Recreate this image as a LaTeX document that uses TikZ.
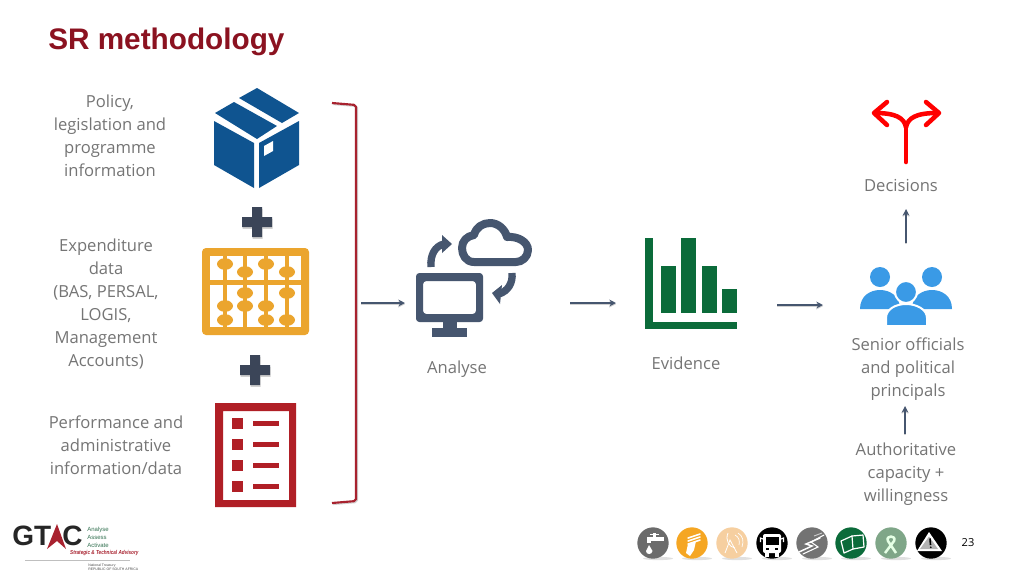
\documentclass[tikz,border=0pt]{standalone}
\usepackage{fontspec}
\setmainfont{Open Sans}
\newfontfamily\arialf{Liberation Sans}
\usetikzlibrary{arrows.meta}
\definecolor{navybox}{HTML}{0F5490}
\definecolor{slateplus}{HTML}{3B4558}
\definecolor{abacus}{HTML}{EBA52E}
\definecolor{listred}{HTML}{B01F26}
\definecolor{brackred}{HTML}{A8222F}
\definecolor{slateic}{HTML}{46566F}
\definecolor{chartgreen}{HTML}{0B6B3A}
\definecolor{peoplblue}{HTML}{3A9AE6}
\definecolor{textgrey}{HTML}{757575}
\definecolor{titlered}{HTML}{8B1220}
\tikzset{
  x=0.75pt,y=-0.75pt,
  lab/.style={text=textgrey,font=\fontsize{12.45pt}{17.25pt}\selectfont,align=center,inner sep=0pt},
  flow/.style={draw=slateic,line width=1.4pt,-{Stealth[length=5pt,width=5pt]},
    preaction={draw=black!18,line width=1.4pt,transform canvas={yshift=-0.9pt}}},
  badge/.style={circle,minimum size=23.5pt,inner sep=0pt},
  glyph/.style={draw=white,line width=0.9pt,line cap=round,line join=round},
}
\newcommand{\plusshape}[2]{(#1-15,#2-5) -- (#1-5,#2-5) -- (#1-5,#2-15) -- (#1+5,#2-15) -- (#1+5,#2-5) -- (#1+15,#2-5) -- (#1+15,#2+5) -- (#1+5,#2+5) -- (#1+5,#2+15) -- (#1-5,#2+15) -- (#1-5,#2+5) -- (#1-15,#2+5) -- cycle}
\newcommand{\plusat}[2]{\fill[black!18] \plusshape{#1+0.5}{#2+1.8}; \fill[slateplus] \plusshape{#1}{#2};}
\newcommand{\beadat}[2]{\fill[abacus] (#1,#2) ellipse [x radius=8,y radius=5.8];}
\newcommand{\badgeshade}[2]{\fill[black!12] (#1+5,#2+15.5) ellipse [x radius=15,y radius=1.6];}
\begin{document}
\begin{tikzpicture}
\useasboundingbox (0,0) rectangle (1024,576);
\fill[white] (0,0) rectangle (1024,576);
% title
\node[anchor=west,inner sep=0pt,text=titlered,font=\arialf\bfseries\fontsize{22.3pt}{26pt}\selectfont] (title) at (48,42) {SR methodology};
% left labels
\node[lab] (policy) at (110,135.5) {Policy,\\legislation and\\programme\\information};
\node[lab] (expend) at (106,304) {Expenditure\\data\\(BAS, PERSAL,\\LOGIS,\\Management\\Accounts)};
\node[lab] (perf) at (116,445) {Performance and\\administrative\\information/data};
% box icon
\fill[navybox] (257,88) -- (299,113) -- (282,123) -- (239,98) -- cycle;
\fill[navybox] (234,102) -- (277,126) -- (257,139) -- (215,113) -- cycle;
\fill[navybox] (214,121) -- (254,143) -- (254,188) -- (214,165) -- cycle;
\fill[navybox] (259,143) -- (299,121) -- (299,165) -- (259,188) -- cycle;
\fill[white] (264,146) -- (273,141) -- (273,151) -- (264,156) -- cycle;
\plusat{257}{222}
\plusat{255}{370}
% abacus
\fill[abacus,rounded corners=3pt] (202,248) rectangle (309,335);
\fill[white] (210,256) rectangle (301,327);
\fill[abacus] (210,280) rectangle (301,285);
\foreach \x in {225,245,266,287}{\fill[abacus] (\x-2,256) rectangle (\x+2,327);}
\beadat{225}{264}\beadat{245}{272}\beadat{266}{264}\beadat{287}{272}
\beadat{245}{293}\beadat{287}{293}
\beadat{225}{306}\beadat{245}{306}\beadat{266}{306}
\beadat{225}{320}\beadat{266}{320}\beadat{287}{320}
% list
\fill[listred,even odd rule] (215,403) rectangle (296,507) (223,411) rectangle (289,500);
\foreach \y in {418,439,460,481}{
  \fill[listred] (232,\y) rectangle (243,\y+11);
  \fill[listred] (253,\y+3) rectangle (279,\y+8);
}
% bracket
\draw[black!18,line width=1.6pt,rounded corners=1.5pt] (333,104) -- (357,106) -- (357,502) -- (333,504);
\draw[brackred,line width=1.6pt,rounded corners=1.5pt] (332,103) -- (356,105) -- (356,501) -- (332,503);
% analyse icon
\fill[slateic,rounded corners=2.5pt,even odd rule] (416,273) rectangle (483,322) (423,281) rectangle (476,314);
\fill[slateic] (443,322) rectangle (457,329);
\fill[slateic] (432,328) rectangle (467,337);
\draw[slateic,line width=6pt,line join=round] (474,262) .. controls (466,262) and (462,255) .. (462,248) .. controls (462,241) and (467,236) .. (474,235) .. controls (476,227) and (483,223) .. (490,223) .. controls (498,223) and (505,229) .. (507,237) .. controls (518,236) and (528,242) .. (528,250) .. controls (528,257) and (522,262) .. (516,262) -- cycle;
\draw[slateic,line width=5.5pt] (431,267) .. controls (430,255) and (435,246) .. (444,244);
\fill[slateic] (442,235) -- (452,244) -- (442,253) -- cycle;
\draw[slateic,line width=5.5pt] (512,273) .. controls (513,283) and (508,291) .. (499,294);
\fill[slateic] (492,293) -- (502,285) -- (500,304) -- cycle;
% chart
\fill[chartgreen] (645,238) rectangle (653,329);
\fill[chartgreen] (645,322) rectangle (737,329);
\fill[chartgreen] (661,266) rectangle (676,313);
\fill[chartgreen] (681,238) rectangle (696,313);
\fill[chartgreen] (702,266) rectangle (717,313);
\fill[chartgreen] (722,289) rectangle (737,313);
% decisions icon
\draw[red,line width=3.4pt,line cap=round] (906,162) -- (906,127);
\draw[red,line width=3.4pt,line cap=round] (906,127) .. controls (904,118) and (896,113) .. (875,113);
\draw[red,line width=3.4pt,line cap=round] (906,127) .. controls (908,118) and (916,113) .. (937,113);
\draw[red,line width=3.4pt,line cap=round,line join=round] (887,102) -- (874,113) -- (887,125);
\draw[red,line width=3.4pt,line cap=round,line join=round] (926,102) -- (939,113) -- (926,125);
% people icon
\fill[peoplblue] (880,277) circle [radius=10];
\fill[peoplblue] (932,277) circle [radius=10];
\fill[peoplblue] (860,309) .. controls (860,296) and (870,290) .. (880,290) .. controls (890,290) and (900,296) .. (900,309) -- cycle;
\fill[peoplblue] (952,309) .. controls (952,296) and (942,290) .. (932,290) .. controls (922,290) and (912,296) .. (912,309) -- cycle;
\fill[peoplblue,draw=white,line width=1.5pt] (906,292) circle [radius=11];
\fill[peoplblue,draw=white,line width=1.5pt] (886,326) -- (886,318) .. controls (886,309) and (896,304) .. (906,304) .. controls (916,304) and (927,309) .. (927,318) -- (927,326) -- cycle;
% centre labels
\node[lab] (analyse) at (457,369.5) {Analyse};
\node[lab] (evidence) at (686,363) {Evidence};
\node[lab] (decisions) at (901,185) {Decisions};
\node[lab] (senior) at (908,369.5) {Senior officials\\and political\\principals};
\node[lab] (auth) at (906,474) {Authoritative\\capacity +\\willingness};
% connectors
\coordinate (a1) at (361,303); \coordinate (a2) at (405,303);
\coordinate (b1) at (570,303); \coordinate (b2) at (616,303);
\coordinate (c1) at (777,305); \coordinate (c2) at (823,305);
\coordinate (d1) at (906,243); \coordinate (d2) at (906,209);
\coordinate (e1) at (905,434); \coordinate (e2) at (905,406);
\draw[flow] (a1) -- (a2);
\draw[flow] (b1) -- (b2);
\draw[flow] (c1) -- (c2);
\draw[flow] (d1) -- (d2);
\draw[flow] (e1) -- (e2);
% logo
\node[anchor=west,inner sep=0pt,font=\arialf\bfseries\fontsize{21pt}{21pt}\selectfont,text=black!85] (gt) at (12,536) {GT};
\fill[brackred] (47,549) -- (57,524) -- (66,549) -- (57,541) -- cycle;
\node[anchor=west,inner sep=0pt,font=\arialf\bfseries\fontsize{21pt}{21pt}\selectfont,text=black!85] (cc) at (62,536) {C};
\node[anchor=west,inner sep=0pt,text=chartgreen!65!gray,font=\arialf\fontsize{4.5pt}{6pt}\selectfont,align=left] (aaa) at (87,537) {Analyse\\Assess\\Activate};
\node[anchor=west,inner sep=0pt,text=brackred,xscale=0.81,font=\arialf\bfseries\itshape\fontsize{4.3pt}{5pt}\selectfont] (strat) at (70,553) {Strategic \& Technical Advisory};
\draw[gray!50,line width=0.5pt] (25,560) -- (130,560);
\node[anchor=west,inner sep=0pt,text=black!70,font=\arialf\fontsize{2.6pt}{3.2pt}\selectfont,align=left] (nt) at (88,567) {National Treasury\\REPUBLIC OF SOUTH AFRICA};
% badges
\foreach \x in {653,692,732,772,812,851,891,931}{\badgeshade{\x}{543}}
\node[badge,fill=black!58] (b1n) at (653,543) {};
\node[badge,fill={rgb,255:red,245;green,166;blue,35}] (b2n) at (692,543) {};
\node[badge,fill={rgb,255:red,246;green,207;blue,160}] (b3n) at (732,543) {};
\node[badge,fill=black] (b4n) at (772,543) {};
\node[badge,fill=black!55] (b5n) at (812,543) {};
\node[badge,fill=chartgreen] (b6n) at (851,543) {};
\node[badge,fill={rgb,255:red,127;green,166;blue,136}] (b7n) at (891,543) {};
\node[badge,fill=black] (b8n) at (931,543) {};
% tap
\fill[white] (647,537) rectangle (664,540.5);
\fill[white] (647,537) rectangle (651,543);
\fill[white] (653,533) rectangle (655.5,537);
\fill[white] (650,534) rectangle (659,535);
\fill[white] (649,545) -- (646,551) .. controls (646,555) and (652,555) .. (652.5,551) -- cycle;
% bulb
\foreach \yy in {0,3,6}{\draw[white,line width=1.2pt,line cap=round] (688,538+\yy) -- (700,534+\yy);}
\fill[white] (688,544) -- (696,541) -- (694,550) -- (690,556) -- (686,553) -- cycle;
% dish
\draw[white,line width=0.6pt] (725,553) -- (730,540) -- (737,553);
\draw[white,line width=0.6pt] (728,533) .. controls (725,540) and (729,547) .. (735,548);
\draw[white,line width=0.5pt] (735,535) .. controls (739,537) and (740,541) .. (739,545);
\draw[white,line width=0.5pt] (738,533) .. controls (743,536) and (744,541) .. (742,547);
% bus
\fill[white,rounded corners=1.5pt] (763,534) rectangle (781,553);
\fill[black] (765.5,537) rectangle (778.5,545);
\fill[white] (765,553) rectangle (769,557);
\fill[white] (775,553) rectangle (779,557);
\fill[black] (766,548) rectangle (769,550);
\fill[black] (775,548) rectangle (778,550);
\draw[white,line width=0.8pt] (763,539) -- (760.5,538) -- (760.5,542);
\draw[white,line width=0.8pt] (781,539) -- (783.5,538) -- (783.5,542);
% road
\draw[white,line width=1.1pt,line cap=round] (799,552) -- (812,546) -- (806,544) -- (820,538);
\draw[white,line width=0.8pt,line cap=round] (803,554) -- (818,547) -- (811,542) -- (824,535);
\draw[white!80!black,line width=0.7pt] (814,536) -- (822,533);
% book
\draw[glyph] (841,541) -- (852,536) -- (853,549) -- (844,553) -- cycle;
\draw[glyph] (852,536) -- (863,535) -- (864,547) -- (853,549);
% ribbon
\draw[white!90!green,line width=1.9pt,line join=round] (896,553) -- (888,541) .. controls (885,535) and (897,535) .. (894,541) -- (885,553);
% warning
\fill[white] (929,532) -- (942,551) -- (917,551) -- cycle;
\fill[black!30] (929,536.5) -- (938,549) -- (920,549) -- cycle;
\draw[black,line width=1.2pt] (930,538.5) -- (930.5,545);
\fill[black] (930.8,547.3) circle [radius=0.9];
\node[inner sep=0pt,font=\fontsize{8.3pt}{10pt}\selectfont] (pg) at (968,543) {23};
\end{tikzpicture}
\end{document}
